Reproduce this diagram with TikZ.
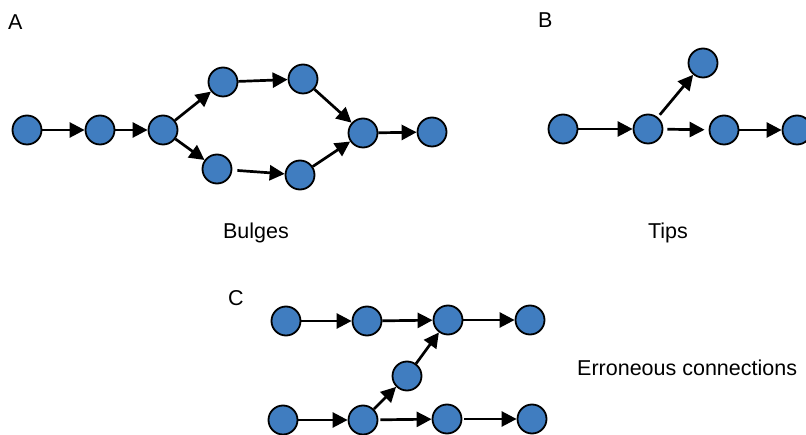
\documentclass[tikz,border=0pt]{standalone}
\usepackage{fontspec}
\setmainfont{Liberation Sans}
\usetikzlibrary{arrows.meta}
\definecolor{nodeblue}{RGB}{64,125,192}
\tikzset{
  vtx/.style={circle, draw=black, line width=1.8pt, fill=nodeblue, minimum size=29pt, inner sep=0pt},
  link/.style={line width=2.7pt, -{Triangle[length=15pt 0, width=15pt 0]}},
  lbl/.style={anchor=base west, inner sep=0pt, font=\fontsize{21.5}{24}\selectfont},
}
\begin{document}
\begin{tikzpicture}[x=1pt, y=-1pt]
\useasboundingbox (0,0) rectangle (806,435);

% Panel A: bulge between two paths
\node[vtx] (a1) at (27,130) {};
\node[vtx] (a2) at (100,130) {};
\node[vtx] (a3) at (163,130) {};
\node[vtx] (a4) at (223,82) {};
\node[vtx] (a5) at (303,79) {};
\node[vtx] (a6) at (217,169) {};
\node[vtx] (a7) at (300,175) {};
\node[vtx] (a8) at (363,133) {};
\node[vtx] (a9) at (432,132) {};
\draw[link] (a1) -- (a2);
\draw[link] (a2) -- (a3);
\draw[link] (a3) -- (a4);
\draw[link] (a3) -- (a6);
\draw[link] (a4) -- (a5);
\draw[link, shorten <=5pt] (a6) -- (a7);
\draw[link] (a5) -- (a8);
\draw[link] (a7) -- (a8);
\draw[link] (a8) -- (a9);

% Panel B: a short dead-end tip
\node[vtx] (b1) at (563,129) {};
\node[vtx] (b2) at (648,129) {};
\node[vtx] (b3) at (724,130) {};
\node[vtx] (b4) at (797,130) {};
\node[vtx] (b5) at (703,63) {};
\draw[link] (b1) -- (b2);
\draw[link, shorten <=3pt] (b2) -- (b5);
\draw[link, shorten <=4pt, shorten >=4pt] (b2) -- (b3);
\draw[link] (b3) -- (b4);

% Panel C: a wrong link joining two paths
\node[vtx] (c1) at (286,321) {};
\node[vtx] (c2) at (367,321) {};
\node[vtx] (c3) at (448,320) {};
\node[vtx] (c4) at (530,320) {};
\node[vtx] (c5) at (407,376) {};
\node[vtx] (c6) at (283,420) {};
\node[vtx] (c7) at (363,420) {};
\node[vtx] (c8) at (447,419) {};
\node[vtx] (c9) at (532,419) {};
\draw[link] (c1) -- (c2);
\draw[link] (c2) -- (c3);
\draw[link] (c3) -- (c4);
\draw[link] (c6) -- (c7);
\draw[link] (c7) -- (c5);
\draw[link] (c5) -- (c3);
\draw[link, shorten <=2pt] (c7) -- (c8);
\draw[link, shorten <=2pt] (c8) -- (c9);

% Labels
\node[lbl] (la) at (8,30) {A};
\node[lbl] (lb) at (538,28) {B};
\node[lbl] (lc) at (228,306) {C};
\node[lbl, anchor=base] (t1) at (256,239) {Bulges};
\node[lbl, anchor=base] (t2) at (668,239) {Tips};
\node[lbl] (t3) at (577,376) {Erroneous connections};
\end{tikzpicture}
\end{document}
